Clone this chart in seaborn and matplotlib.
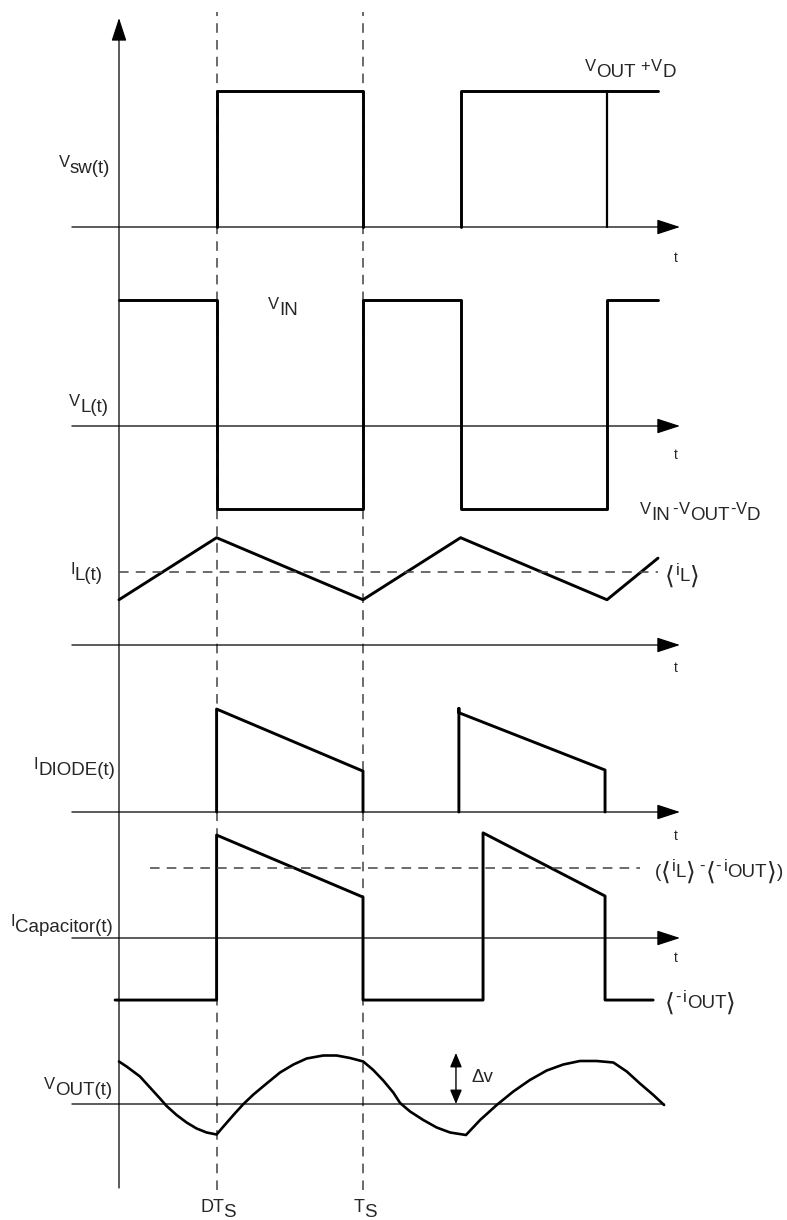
import matplotlib
matplotlib.use("Agg")
import matplotlib.pyplot as plt
import seaborn as sns

sns.set_theme(style="white")
plt.rcParams['font.family'] = ['Liberation Sans', 'DejaVu Sans']

W, H = 787, 1220
ORIGIN_PX = 119      # pixel column of t = 0
PERIOD_PX = 244      # pixels per switching period
D = 0.4              # duty cycle (DT_S)

# switch node voltage, normalised to V_OUT + V_D
vsw_t1 = [0.4, 0.4, 1.0, 1.0]
vsw_v1 = [0, 1, 1, 0]
vsw_t2 = [1.4, 1.4, 2.209]
vsw_v2 = [0, 1, 1]
vsw_t3 = [2.0, 2.0]
vsw_v3 = [1, 0]

# inductor voltage, normalised to V_IN
vl_t = [0, 0.4, 0.4, 1.0, 1.0, 1.4, 1.4, 2.0, 2.0, 2.209]
vl_v = [1, 1, -0.66, -0.66, 1, 1, -0.66, -0.66, 1, 1]

# inductor current, normalised to <i_L>
il_t = [0, 0.4, 1.0, 1.4, 2.0, 2.209]
il_v = [0.62, 1.47, 0.62, 1.47, 0.62, 1.19]
il_avg = 1.0

# diode current
id_t1 = [0.4, 0.4, 1.0, 1.0]
id_v1 = [0, 1.41, 0.56, 0]
id_t2 = [1.393, 1.393, 1.393, 1.992, 1.992]
id_v2 = [0, 1.42, 1.36, 0.575, 0]

# capacitor current
ic_t = [-0.016, 0.4, 0.4, 1.0, 1.0, 1.492, 1.492, 1.992, 1.992, 2.189]
ic_v = [-0.85, -0.85, 1.41, 0.56, -0.85, -0.85, 1.44, 0.575, -0.85, -0.85]
ic_avg = 0.96
ic_avg_span = [0.127, 2.135]

# output voltage ripple, normalised to delta v
vout_t = [0.000, 0.031, 0.086, 0.127, 0.168, 0.195, 0.236, 0.277, 0.318, 0.359,
          0.400, 0.428, 0.469, 0.510, 0.551, 0.605, 0.660, 0.715, 0.769, 0.837,
          0.892, 0.947, 1.001, 1.042, 1.083, 1.124, 1.152, 1.193, 1.247, 1.302,
          1.357, 1.422, 1.480, 1.548, 1.616, 1.684, 1.753, 1.821, 1.889, 1.958,
          2.026, 2.081, 2.135, 2.190, 2.234]
vout_v = [0.85, 0.75, 0.55, 0.33, 0.11, -0.04, -0.22, -0.37, -0.49, -0.57,
          -0.61, -0.45, -0.22, 0.00, 0.19, 0.41, 0.63, 0.79, 0.91, 0.97,
          0.97, 0.92, 0.85, 0.68, 0.47, 0.23, 0.02, -0.15, -0.32, -0.47,
          -0.57, -0.62, -0.32, -0.02, 0.25, 0.48, 0.67, 0.79, 0.86, 0.86,
          0.83, 0.65, 0.41, 0.18, -0.02]
dv_t = 1.381
dv_span = [0.0, 1.02]

T_LEFT = (0 - ORIGIN_PX) / PERIOD_PX
T_RIGHT = (W - ORIGIN_PX) / PERIOD_PX
AXIS_START = -0.193
AXIS_END = 2.299

fig = plt.figure(figsize=(W / 100, H / 100), dpi=100)

pix = fig.add_axes([0, 0, 1, 1], facecolor='none')
pix.set_xlim(0, W)
pix.set_ylim(H, 0)
pix.set_axis_off()


def panel(baseline, unit):
    ax = fig.add_axes([0, 0, 1, 1], facecolor='none')
    ax.set_xlim(T_LEFT, T_RIGHT)
    ax.set_ylim((baseline - H) / unit, baseline / unit)
    ax.set_axis_off()
    return ax


def wave(ax, t, v, lw=2.1):
    sns.lineplot(x=t, y=v, ax=ax, sort=False, estimator=None,
                 color='black', linewidth=lw)


ARROW = '-|>,head_length=1.44,head_width=0.47'


def time_axis(ax, end=AXIS_END, arrow=True):
    ax.annotate('', xy=(end, 0), xytext=(AXIS_START, 0),
                arrowprops=dict(arrowstyle=ARROW if arrow else '-', color='black',
                                lw=0.9, shrinkA=0, shrinkB=0, mutation_scale=10))


dash = dict(color='#4a4a4a', lw=1.15, ls=(0, (6, 4.5)))

ax_sw = panel(227, 136)
ax_vl = panel(426, 126)
ax_il = panel(645, 73)
ax_id = panel(812, 73)
ax_ic = panel(938, 73)
ax_vo = panel(1104, 50)

# vertical axis and period markers
ax_sw.annotate('', xy=(0, 1 - 18 / H), xycoords=('data', 'axes fraction'),
               xytext=(0, 1 - 1188 / H), textcoords=('data', 'axes fraction'),
               arrowprops=dict(arrowstyle=ARROW, color='black', lw=0.9,
                               shrinkA=0, shrinkB=0, mutation_scale=10))
for tx in (D, 1.0):
    ax_sw.axvline(tx, ymin=1 - 1190 / H, ymax=1 - 12 / H, **dash)

for ax in (ax_sw, ax_vl, ax_il, ax_id, ax_ic):
    time_axis(ax)
time_axis(ax_vo, end=2.234, arrow=False)

wave(ax_sw, vsw_t1, vsw_v1)
wave(ax_sw, vsw_t2, vsw_v2)
wave(ax_sw, vsw_t3, vsw_v3, lw=1.6)
wave(ax_vl, vl_t, vl_v)
wave(ax_il, il_t, il_v)
ax_il.plot([0, il_t[-1]], [il_avg, il_avg], **dash)
wave(ax_id, id_t1, id_v1)
wave(ax_id, id_t2, id_v2)
wave(ax_ic, ic_t, ic_v)
ax_ic.plot(ic_avg_span, [ic_avg, ic_avg], **dash)
wave(ax_vo, vout_t, vout_v, lw=1.9)
ax_vo.annotate('', xy=(dv_t, dv_span[1]), xytext=(dv_t, dv_span[0]),
               arrowprops=dict(arrowstyle='<|-|>,head_length=0.86,head_width=0.36',
                               color='black', lw=1.0, shrinkA=0, shrinkB=0,
                               mutation_scale=10))

# labels: base letters small and raised, subscripts larger and lowered
SIZES = {'b': 12, 's': 13.5, 'k': 18, 'n': 13}
RAISE = {'b': -6, 's': 0, 'k': 3, 'n': -5}
renderer = fig.canvas.get_renderer()


def rich(x, y, parts, ha='left'):
    items = []
    for p in parts:
        kind = p[1]
        gap = p[2] if len(p) > 2 else 0
        txt = pix.text(0, 0, p[0], fontsize=SIZES[kind], va='baseline', ha='left')
        w = txt.get_window_extent(renderer).width
        items.append((txt, w, gap, RAISE[kind]))
    total = sum(w + g for _, w, g, _ in items)
    if ha == 'right':
        cur = x - total
    elif ha == 'center':
        cur = x - total / 2
    else:
        cur = x
    for txt, w, gap, dy in items:
        cur += gap
        txt.set_position((cur, y + dy))
        cur += w


rich(110, 173, [("V", 'b'), ("sw(t)", 's')], ha='right')
rich(585, 77, [("V", 'b'), ("OUT", 's'), ("+", 'b', 5), ("V", 'b', 1), ("D", 's')])
rich(268, 315, [("V", 'b'), ("IN", 's')])
rich(108, 412, [("V", 'b'), ("L(t)", 's')], ha='right')
rich(640, 520, [("V", 'b'), ("IN", 's'), ("-", 'b', 2), ("V", 'b', 2), ("OUT", 's'),
                ("-", 'b'), ("V", 'b'), ("D", 's')])
rich(103, 580, [("I", 'b'), ("L(t)", 's')], ha='right')
rich(665, 581, [("⟨", 'k'), ("i", 'b', 1), ("L", 's'), ("⟩", 'k')])
rich(115, 775, [("I", 'b'), ("DIODE(t)", 's')], ha='right')
rich(655, 877, [("(", 's'), ("⟨", 'k'), ("i", 'b', 1), ("L", 's'), ("⟩", 'k'),
                ("-", 'b', 3), ("⟨", 'k', 1), ("-", 'b'), ("i", 'b', 3),
                ("OUT", 's'), ("⟩", 'k'), (")", 's')])
rich(113, 932, [("I", 'b'), ("Capacitor(t)", 's')], ha='right')
rich(665, 1008, [("⟨", 'k'), ("-", 'b'), ("i", 'b', 3), ("OUT", 's'), ("⟩", 'k')])
rich(112, 1095, [("V", 'b'), ("OUT(t)", 's')], ha='right')
rich(472, 1082, [("Δv", 's')])
rich(218, 1217, [("DT", 'n'), ("S", 's', -1)], ha='center')
rich(365, 1217, [("T", 'n'), ("S", 's', -1)], ha='center')

for ty in (258, 455, 668, 836, 958):
    pix.text(676, ty, "t", fontsize=10, ha='center', va='center')

fig.savefig("out.png", dpi=100)
